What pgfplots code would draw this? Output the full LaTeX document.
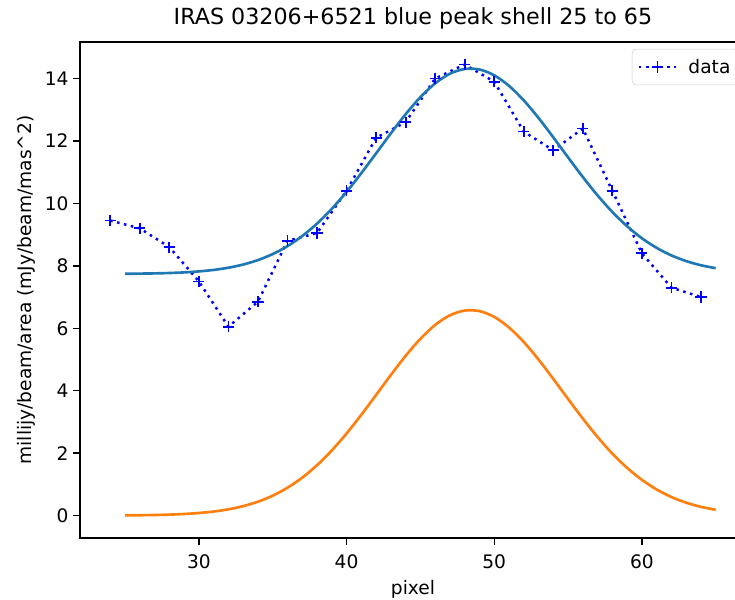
\documentclass[border=0pt]{standalone}
\usepackage{fontspec}
\setmainfont{DejaVu Sans}
\usepackage{pgfplots}
\pgfplotsset{compat=1.18}

% matplotlib colours
\definecolor{mplblue}{HTML}{1F77B4}
\definecolor{mplorange}{HTML}{FF7F0E}

\begin{document}
\begin{tikzpicture}
  % the reference is cropped on the right: fix the page to its frame (1px = 0.72pt)
  \path[use as bounding box] (-57.6pt,-43.92pt) rectangle (471.6pt,387.36pt);
  \begin{axis}[
      scale only axis,
      width=479.52pt,
      height=357.12pt,
      xmin=21.95, xmax=67.05,
      ymin=-0.72, ymax=15.17,
      xtick={30,40,50,60},
      ytick={0,2,4,6,8,10,12,14},
      xtick pos=bottom, ytick pos=left,
      minor tick num=0,
      tick align=outside,
      major tick length=4.7pt,
      tick style={black, line width=1pt},
      axis line style={line width=1pt},
      every axis plot/.append style={line join=round},
      font=\fontsize{13.4}{16}\selectfont,
      ticklabel style={font=\fontsize{13.4}{16}\selectfont},
      xticklabel style={yshift=-3.5pt},
      /pgf/number format/assume math mode=true,
      title={IRAS 03206+6521 blue peak shell 25 to 65},
      title style={font=\fontsize{16}{19}\selectfont},
      xlabel={pixel},
      xlabel style={yshift=-2pt},
      ylabel={millijy/beam/area (mJy/beam/mas\textasciicircum 2)},
      legend style={
        at={(0.9895,0.986)}, anchor=north east,
        draw=black!20, rounded corners=3pt,
        fill=white, fill opacity=0.8, text opacity=1,
        font=\fontsize{13.4}{16}\selectfont,
        inner xsep=4pt, inner ysep=5pt,
        /tikz/every odd column/.append style={column sep=6pt},
      },
      legend cell align=left,
      legend image code/.code={
        \draw[mark repeat=2, mark phase=2, #1]
          plot coordinates {(0cm,0cm) (0.47cm,0cm) (0.94cm,0cm)};
      },
    ]

    % data
    \addplot[color=blue, line width=1.8pt, dash pattern=on 1.8pt off 3.3pt,
      mark=+, mark size=4pt, mark options={solid, line width=1.3pt}]
      coordinates {
        (24, 9.45) (26, 9.20) (28, 8.60) (30, 7.50) (32, 6.05)
        (34, 6.85) (36, 8.80) (38, 9.05) (40, 10.40) (42, 12.10)
        (44, 12.60) (46, 14.00) (48, 14.45) (50, 13.90) (52, 12.30)
        (54, 11.70) (56, 12.40) (58, 10.40) (60, 8.40) (62, 7.30)
        (64, 7.00)
      };
    \addlegendentry{data}

    % fit (gaussian + offset)
    \addplot[forget plot, color=mplblue, line width=1.9pt, smooth] coordinates {
      (25, 7.745) (26, 7.750) (27, 7.757) (28, 7.769) (29, 7.789)
      (30, 7.821) (31, 7.868) (32, 7.939) (33, 8.041) (34, 8.183)
      (35, 8.376) (36, 8.630) (37, 8.954) (38, 9.351) (39, 9.825)
      (40, 10.368) (41, 10.968) (42, 11.602) (43, 12.243) (44, 12.855)
      (45, 13.402) (46, 13.845) (47, 14.154) (48, 14.306) (49, 14.289)
      (50, 14.104) (51, 13.766) (52, 13.300) (53, 12.737) (54, 12.116)
      (55, 11.474) (56, 10.845) (57, 10.254) (58, 9.724) (59, 9.266)
      (60, 8.883) (61, 8.574) (62, 8.333) (63, 8.151) (64, 8.018)
      (65, 7.923)
    };

    % gaussian component
    \addplot[forget plot, color=mplorange, line width=1.9pt, smooth] coordinates {
      (25, 0.005) (26, 0.010) (27, 0.017) (28, 0.029) (29, 0.049)
      (30, 0.081) (31, 0.128) (32, 0.199) (33, 0.301) (34, 0.443)
      (35, 0.636) (36, 0.890) (37, 1.214) (38, 1.611) (39, 2.085)
      (40, 2.628) (41, 3.228) (42, 3.862) (43, 4.503) (44, 5.115)
      (45, 5.662) (46, 6.105) (47, 6.414) (48, 6.566) (49, 6.549)
      (50, 6.364) (51, 6.026) (52, 5.560) (53, 4.997) (54, 4.376)
      (55, 3.734) (56, 3.105) (57, 2.514) (58, 1.984) (59, 1.526)
      (60, 1.143) (61, 0.834) (62, 0.593) (63, 0.411) (64, 0.278)
      (65, 0.183)
    };
  \end{axis}
\end{tikzpicture}
\end{document}
